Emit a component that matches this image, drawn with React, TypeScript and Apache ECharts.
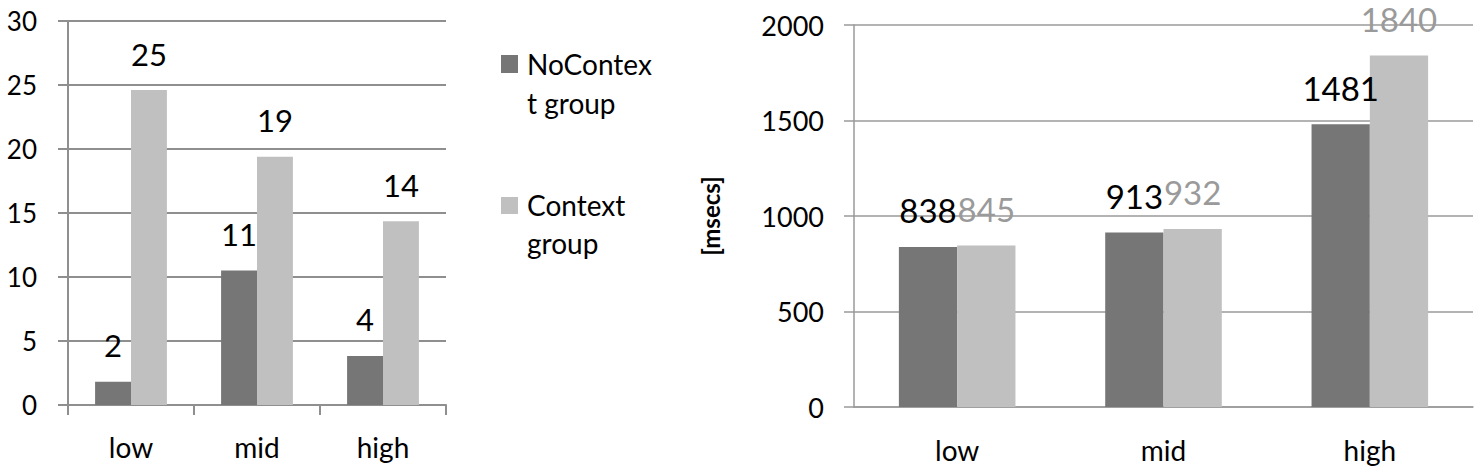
import React, { useEffect, useRef } from 'react';
import * as echarts from 'echarts';

const categories = ['low', 'mid', 'high'];
const seriesNames = ['NoContext group', 'Context group'];
const legendLabels = ['NoContex\nt group', 'Context\ngroup'];
const leftNoContext = [1.82, 10.5, 3.83];
const leftContext = [24.6, 19.4, 14.35];
const rightNoContext = [838, 913, 1481];
const rightContext = [845, 932, 1840];
const leftAxisRange = [0, 30];
const leftAxisStep = 5;
const rightAxisRange = [0, 2000];
const rightAxisStep = 500;
const rightAxisName = '[msecs]';

const DARK = '#767676';
const LIGHT = '#c0c0c0';
const FONT = 'Lato';

export default function App() {
  const ref = useRef<HTMLDivElement>(null);

  useEffect(() => {
    if (!ref.current) return;
    const chart = echarts.init(ref.current, undefined, { renderer: 'svg' });
    const leftLine = { color: '#8f8f8f', width: 2 };
    const rightLine = { color: '#9a9a9a', width: 1.5 };

    const option: any = {
      animation: false,
      backgroundColor: '#ffffff',
      textStyle: { fontFamily: FONT },
      grid: [
        { left: 68, top: 21, width: 378, height: 384 },
        { left: 854, top: 25, width: 619, height: 382 },
      ],
      xAxis: [
        {
          type: 'category',
          gridIndex: 0,
          data: categories,
          axisLine: { show: true, lineStyle: leftLine },
          axisTick: { show: true, length: 10, lineStyle: leftLine },
          axisLabel: { margin: 28, fontSize: 28, color: '#000', fontFamily: FONT },
        },
        {
          type: 'category',
          gridIndex: 1,
          data: categories,
          axisLine: { show: true, lineStyle: rightLine },
          axisTick: { show: false },
          axisLabel: { margin: 29, fontSize: 28, color: '#000', fontFamily: FONT },
        },
      ],
      yAxis: [
        {
          type: 'value',
          gridIndex: 0,
          min: leftAxisRange[0],
          max: leftAxisRange[1],
          interval: leftAxisStep,
          axisLine: { show: true, lineStyle: leftLine },
          axisTick: { show: true, length: 10, lineStyle: leftLine },
          splitLine: { show: true, lineStyle: leftLine },
          axisLabel: { margin: 31, fontSize: 26, color: '#000', fontFamily: FONT },
        },
        {
          type: 'value',
          gridIndex: 1,
          min: rightAxisRange[0],
          max: rightAxisRange[1],
          interval: rightAxisStep,
          name: rightAxisName,
          nameLocation: 'middle',
          nameGap: 132,
          nameRotate: 90,
          nameTextStyle: { fontSize: 24, fontWeight: 'bold', color: '#000', fontFamily: FONT },
          axisLine: { show: true, lineStyle: rightLine },
          axisTick: { show: true, length: 10, lineStyle: rightLine },
          splitLine: { show: true, lineStyle: rightLine },
          axisLabel: {
            margin: 30,
            fontSize: 27,
            color: '#000',
            fontFamily: FONT,
            formatter: (v: number) => String(v),
          },
        },
      ],
      series: [
        {
          name: seriesNames[0],
          type: 'bar',
          xAxisIndex: 0,
          yAxisIndex: 0,
          data: leftNoContext,
          barGap: '0%',
          barCategoryGap: '43%',
          itemStyle: { color: DARK },
          label: {
            show: true,
            position: 'top',
            distance: 21,
            fontSize: 31,
            color: '#000',
            fontFamily: FONT,
            formatter: (p: any) => String(Math.round(p.value)),
          },
        },
        {
          name: seriesNames[1],
          type: 'bar',
          xAxisIndex: 0,
          yAxisIndex: 0,
          data: leftContext,
          barGap: '0%',
          barCategoryGap: '43%',
          itemStyle: { color: LIGHT },
          label: {
            show: true,
            position: 'top',
            distance: 21,
            fontSize: 31,
            color: '#000',
            fontFamily: FONT,
            formatter: (p: any) => String(Math.round(p.value)),
          },
        },
        {
          name: seriesNames[0] + ' ',
          type: 'bar',
          xAxisIndex: 1,
          yAxisIndex: 1,
          data: rightNoContext,
          barGap: '0%',
          barCategoryGap: '43.5%',
          itemStyle: { color: DARK },
          label: {
            show: true,
            position: 'top',
            distance: 20,
            fontSize: 33,
            color: '#000',
            fontFamily: FONT,
          },
        },
        {
          name: seriesNames[1] + ' ',
          type: 'bar',
          xAxisIndex: 1,
          yAxisIndex: 1,
          data: rightContext,
          barGap: '0%',
          barCategoryGap: '43.5%',
          itemStyle: { color: LIGHT },
          label: {
            show: true,
            position: 'top',
            distance: 20,
            fontSize: 33,
            color: '#9a9a9a',
            fontFamily: FONT,
          },
        },
      ],
      graphic: [
        { type: 'rect', shape: { x: 501, y: 55, width: 17, height: 18 }, style: { fill: DARK } },
        {
          type: 'text',
          style: {
            x: 527,
            y: 44.5,
            text: legendLabels[0],
            fontSize: 28,
            fontFamily: FONT,
            lineHeight: 39,
            fill: '#000',
            verticalAlign: 'top',
            align: 'left',
          },
        },
        { type: 'rect', shape: { x: 501, y: 197, width: 17, height: 17 }, style: { fill: LIGHT } },
        {
          type: 'text',
          style: {
            x: 527,
            y: 186,
            text: legendLabels[1],
            fontSize: 28,
            fontFamily: FONT,
            lineHeight: 38,
            fill: '#000',
            verticalAlign: 'top',
            align: 'left',
          },
        },
      ],
    };

    chart.setOption(option);
    return () => chart.dispose();
  }, []);

  return (
    <div
      ref={ref}
      style={{ position: 'fixed', left: 0, top: 0, width: 1477, height: 476, background: '#fff' }}
    />
  );
}
